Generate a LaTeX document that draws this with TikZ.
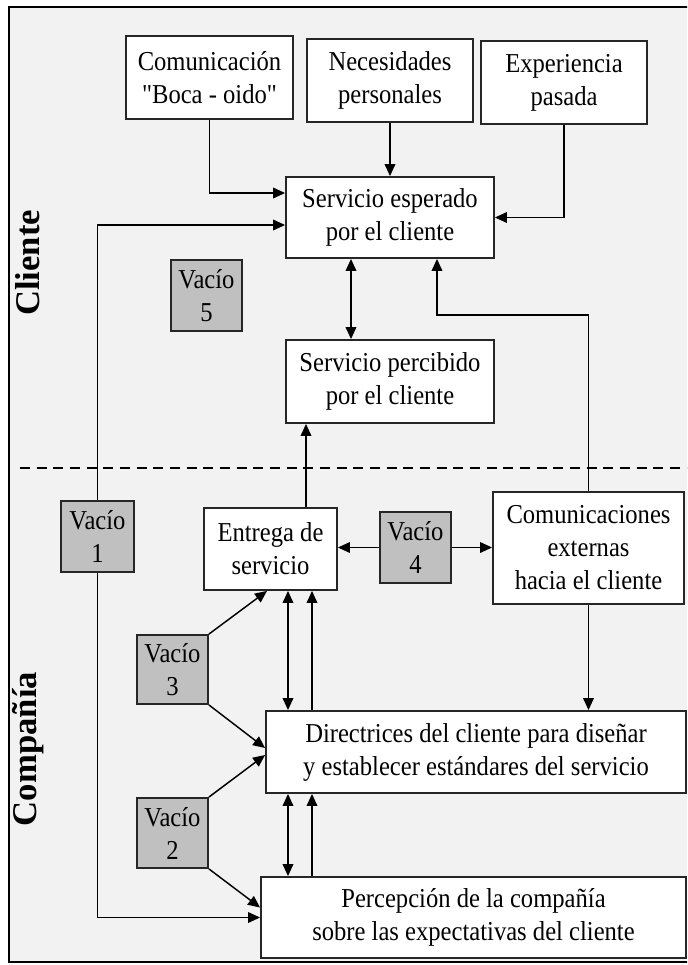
\documentclass[tikz,border=0pt]{standalone}
\usepackage{fontspec}
\newfontfamily\boxfont{Liberation Serif}[FakeStretch=0.9]
\newfontfamily\lblfont{Liberation Serif}
\usetikzlibrary{arrows.meta,calc}
\definecolor{bgc}{RGB}{242,242,242}
\definecolor{gapc}{RGB}{192,192,192}
\begin{document}
\begin{tikzpicture}[x=0.75pt,y=-0.75pt,
 box/.style={draw=black!85, line width=1.4pt, fill=white, inner sep=0pt, align=center, font=\boxfont\fontsize{20.5}{24.75}\selectfont},
 gap/.style={box, fill=gapc},
 sz/.style 2 args={minimum width=#1*0.75pt, minimum height=#2*0.75pt},
 arr/.style={line width=1.1pt, -{Triangle[length=9pt,width=8pt]}},
 darr/.style={line width=1.1pt, {Triangle[length=9pt,width=8pt]}-{Triangle[length=9pt,width=8pt]}},
 ln/.style={line width=1.1pt},
 lbl/.style={rotate=90, font=\lblfont\bfseries\fontsize{26}{30}\selectfont}]

\useasboundingbox (0,0) rectangle (687,965);
\begin{scope}
\clip (0,0) rectangle (687,965);
\draw[fill=bgc, line width=1.5pt] (9,7) rectangle (700,962);
\draw[line width=1.5pt, dash pattern=on 7.5pt off 5pt] (20,468) -- (700,468);
\end{scope}

% labels
\node[lbl] (lc) at (28,263) {Cliente};
\node[lbl] (lp) at (28,749) {Compañía};

% boxes
\node[box, sz={167}{83}] (c1) at (209.5,77.5) {Comunicación\\"Boca - oido"};
\node[box, sz={166}{83}] (n2) at (390,80.5) {Necesidades\\personales};
\node[box, sz={166}{83}] (e3) at (564,82.5) {Experiencia\\pasada};
\node[box, sz={208}{81}] (se) at (390,217.5) {Servicio esperado\\por el cliente};
\node[gap, sz={71}{71}] (v5) at (206.5,295.5) {Vacío\\5};
\node[box, sz={208}{83}] (sp) at (390,381.5) {Servicio percibido\\por el cliente};
\node[gap, sz={73}{71}] (v1) at (97.5,536.5) {Vacío\\1};
\node[box, sz={133}{82}] (en) at (270.5,549) {Entrega de\\servicio};
\node[gap, sz={71}{71}] (v4) at (415.5,547.5) {Vacío\\4};
\node[box, sz={191}{112}] (cm) at (588.5,548) {Comunicaciones\\externas\\hacia el cliente};
\node[gap, sz={71}{69}] (v3) at (172.5,669.5) {Vacío\\3};
\node[box, sz={420}{82}] (di) at (476,752) {Directrices del cliente para diseñar\\y establecer estándares del servicio};
\node[gap, sz={71}{70}] (v2) at (172.5,833) {Vacío\\2};
\node[box, sz={425}{81}] (pe) at (473.5,917.5) {Percepción de la compañía\\sobre las expectativas del cliente};

% top inputs
\draw[arr] (c1.south) |- ($(se.west)+(0,-24.5)$);
\draw[arr] (n2.south) -- (n2.south |- se.north);
\draw[arr] (e3.south) |- (se.east);

% gap 1 line
\draw[arr] (v1.north) |- ($(se.west)+(0,7.5)$);
\draw[arr] (v1.south) |- (pe.west);

% expected <-> perceived
\draw[darr] ($(se.south)+(-39,0)$) -- ($(sp.north)+(-39,0)$);

% external communications to expected
\coordinate (k1) at (437,315);
\draw[arr] (cm.north) |- (k1) -- (k1 |- se.south);

% delivery to perceived
\coordinate (xd) at (306,0);
\draw[arr] (xd |- en.north) -- (xd |- sp.south);

% gap 4
\draw[arr] (v4.west) -- (v4.west -| en.east);
\draw[arr] (v4.east) -- (v4.east -| cm.west);

% external comms down to guidelines
\draw[arr] (cm.south) -- (cm.south |- di.north);

% delivery <-> guidelines
\coordinate (xa) at (288,0);
\coordinate (xb) at (312,0);
\draw[darr] (xa |- en.south) -- (xa |- di.north);
\draw[arr] (xb |- di.north) -- (xb |- en.south);
\draw[darr] (xa |- di.south) -- (xa |- pe.north);
\draw[arr] (xb |- pe.north) -- (xb |- di.south);

% gap 3
\coordinate (t3) at (267,0);
\draw[arr] (v3.north east) -- (t3 |- en.south);
\draw[arr] (v3.south east) -- ($(di.west)+(0,-4)$);

% gap 2
\draw[arr] (v2.north east) -- ($(di.west)+(0,3)$);
\draw[arr] (v2.south east) -- ($(pe.west)+(0,-10)$);
\end{tikzpicture}
\end{document}
